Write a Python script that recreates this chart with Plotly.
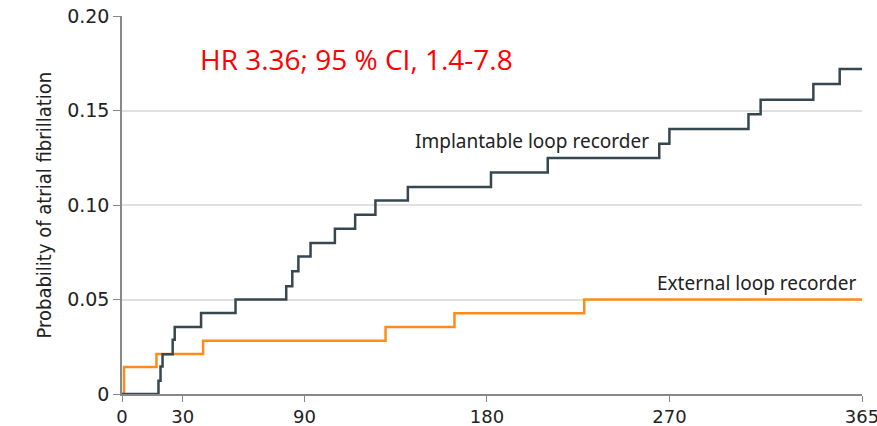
import plotly.graph_objects as go

# Implantable loop recorder (ILR) Kaplan-Meier steps
ilr_days = [0, 18, 19, 20, 25, 26, 39, 56, 81, 84, 87, 93, 105, 115, 125, 141, 182, 210, 265, 270, 309, 315, 341, 354, 365]
ilr_prob = [0, 0.007, 0.0145, 0.021, 0.0287, 0.0354, 0.0429, 0.05, 0.057, 0.065, 0.0728, 0.0799, 0.0875, 0.0949,
            0.1024, 0.1095, 0.1172, 0.1249, 0.1324, 0.1402, 0.148, 0.1557, 0.164, 0.172, 0.172]

# External loop recorder (ELR) Kaplan-Meier steps
elr_days = [0, 1, 17, 40, 130, 164, 228, 365]
elr_prob = [0, 0.0143, 0.0212, 0.0282, 0.0354, 0.0427, 0.05, 0.05]

x_ticks = [0, 30, 90, 180, 270, 365]
y_ticks = [0, 0.05, 0.10, 0.15, 0.20]
y_tick_labels = ["0", "0.05", "0.10", "0.15", "0.20"]

DARK = "#37474f"
ORANGE = "#ff8c1a"

fig = go.Figure()
fig.add_trace(go.Scatter(x=elr_days, y=elr_prob, mode="lines", line=dict(color=ORANGE, width=2.5, shape="hv"),
                         cliponaxis=False, showlegend=False))
fig.add_trace(go.Scatter(x=ilr_days, y=ilr_prob, mode="lines", line=dict(color=DARK, width=2.5, shape="hv"),
                         cliponaxis=False, showlegend=False))

fig.add_annotation(x=261, y=0.134, xref="x", yref="y", text="Implantable loop recorder", showarrow=False,
                   xanchor="right", yanchor="middle", font=dict(family="Noto Sans", size=19, color="#222222"))
fig.add_annotation(x=363, y=0.0585, xref="x", yref="y", text="External loop recorder", showarrow=False,
                   xanchor="right", yanchor="middle", font=dict(family="Noto Sans", size=19, color="#222222"))
fig.add_annotation(x=115.7, y=0.177, xref="x", yref="y", text="HR 3.36; 95 % CI, 1.4-7.8", showarrow=False,
                   xanchor="center", yanchor="middle", font=dict(family="Open Sans", size=28, color="#ff0000"))
fig.add_annotation(x=(43.5 - 122) / 740, y=0.50, xref="paper", yref="paper", text="Probability of atrial fibrillation",
                   showarrow=False, textangle=-90, xanchor="center", yanchor="middle",
                   font=dict(family="DejaVu Sans Condensed", size=20, color="#222222"))

fig.update_xaxes(range=[0, 365], tickvals=x_ticks, ticktext=[str(v) for v in x_ticks], showgrid=False,
                 showline=True, linecolor="#888888", linewidth=1.5, ticks="outside", ticklen=6, tickcolor="#888888",
                 tickfont=dict(family="DejaVu Sans", size=18, color="#222222"), zeroline=False,
                 automargin=False, ticklabeloverflow="allow")
fig.update_yaxes(range=[0, 0.2], tickvals=y_ticks, ticktext=y_tick_labels, showgrid=True, gridcolor="#e0e0e0",
                 gridwidth=1.5, showline=True, linecolor="#888888", linewidth=1.5, ticks="outside", ticklen=7,
                 tickcolor="#888888", tickfont=dict(family="DejaVu Sans", size=19, color="#222222"), zeroline=False,
                 automargin=False, ticklabeloverflow="allow")

fig.update_layout(width=877, height=426, margin=dict(l=122, r=15, t=16, b=32), plot_bgcolor="white",
                  paper_bgcolor="white", showlegend=False)

fig.write_html("out.html")
